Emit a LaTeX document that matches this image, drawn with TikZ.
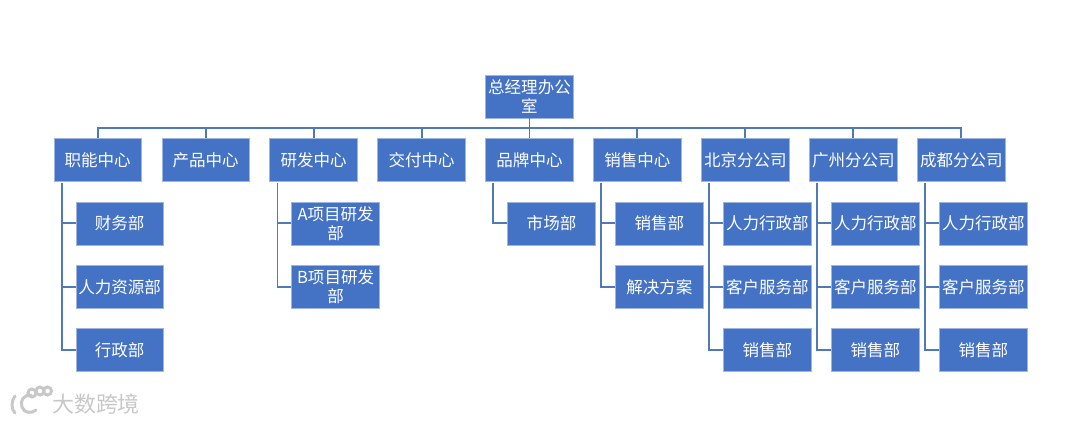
\documentclass[tikz,border=0pt]{standalone}
\usepackage{fontspec}
\setmainfont{Noto Sans CJK SC}
\usepackage{xcolor}
\usetikzlibrary{positioning, calc}
\definecolor{boxblue}{HTML}{4472C4}
\definecolor{boxborder}{HTML}{9DB5E0}
\definecolor{linkblue}{HTML}{5079B8}
\definecolor{markgray}{HTML}{C8C8C8}
\tikzset{
  unit/.style={fill=boxblue, draw=boxborder, line width=0.4pt, text=white, minimum width=1.75cm,
    minimum height=0.86cm, inner sep=0pt, align=center, font=\fontsize{9.4pt}{11pt}\selectfont},
  link/.style={draw=linkblue, line width=1.1pt},
  logoline/.style={draw=markgray, line width=1.7pt, line cap=round}
}

\begin{document}
\begin{tikzpicture}[node distance=0.395cm]
  \useasboundingbox (0,0) rectangle (21.6,-8.48);
  \node[unit] (office) at (10.59,-1.93) {总经理办公\\室};
  % centres
  \node[unit, below=of office] (brand) {品牌中心};
  \node[unit, left=of brand] (delivery) {交付中心};
  \node[unit, left=of delivery] (rnd) {研发中心};
  \node[unit, left=of rnd] (product) {产品中心};
  \node[unit, left=of product] (admin) {职能中心};
  \node[unit, right=of brand] (sales) {销售中心};
  \node[unit, right=of sales] (beijing) {北京分公司};
  \node[unit, right=of beijing] (guangzhou) {广州分公司};
  \node[unit, right=of guangzhou] (chengdu) {成都分公司};
  % departments
  \node[unit, below=of admin, xshift=0.44cm] (finance) {财务部};
  \node[unit, below=of finance] (hr) {人力资源部};
  \node[unit, below=of hr] (affairs) {行政部};
  \node[unit, below=of rnd, xshift=0.44cm] (proja) {A项目研发\\部};
  \node[unit, below=of proja] (projb) {B项目研发\\部};
  \node[unit, below=of brand, xshift=0.44cm] (market) {市场部};
  \node[unit, below=of sales, xshift=0.44cm] (salesdep) {销售部};
  \node[unit, below=of salesdep] (solution) {解决方案};
  \node[unit, below=of beijing, xshift=0.44cm] (bjhr) {人力行政部};
  \node[unit, below=of bjhr] (bjcs) {客户服务部};
  \node[unit, below=of bjcs] (bjsales) {销售部};
  \node[unit, below=of guangzhou, xshift=0.44cm] (gzhr) {人力行政部};
  \node[unit, below=of gzhr] (gzcs) {客户服务部};
  \node[unit, below=of gzcs] (gzsales) {销售部};
  \node[unit, below=of chengdu, xshift=0.44cm] (cdhr) {人力行政部};
  \node[unit, below=of cdhr] (cdcs) {客户服务部};
  \node[unit, below=of cdcs] (cdsales) {销售部};
  % bus under the top box
  \coordinate (bus) at ($(office.south)+(0,-0.2)$);
  \draw[link] (office.south) -- (brand.north);
  \draw[link] (bus) -| (admin.north);
  \draw[link] (bus) -| (product.north);
  \draw[link] (bus) -| (rnd.north);
  \draw[link] (bus) -| (delivery.north);
  \draw[link] (bus) -| (sales.north);
  \draw[link] (bus) -| (beijing.north);
  \draw[link] (bus) -| (guangzhou.north);
  \draw[link] (bus) -| (chengdu.north);
  % spines
  \draw[link] ($(admin.south west)+(0.16,-0.03)$) |- (finance.west);
  \draw[link] ($(admin.south west)+(0.16,-0.03)$) |- (hr.west);
  \draw[link] ($(admin.south west)+(0.16,-0.03)$) |- (affairs.west);
  \draw[link] ($(rnd.south west)+(0.16,-0.03)$) |- (proja.west);
  \draw[link] ($(rnd.south west)+(0.16,-0.03)$) |- (projb.west);
  \draw[link] ($(brand.south west)+(0.16,-0.03)$) |- (market.west);
  \draw[link] ($(sales.south west)+(0.16,-0.03)$) |- (salesdep.west);
  \draw[link] ($(sales.south west)+(0.16,-0.03)$) |- (solution.west);
  \draw[link] ($(beijing.south west)+(0.16,-0.03)$) |- (bjhr.west);
  \draw[link] ($(beijing.south west)+(0.16,-0.03)$) |- (bjcs.west);
  \draw[link] ($(beijing.south west)+(0.16,-0.03)$) |- (bjsales.west);
  \draw[link] ($(guangzhou.south west)+(0.16,-0.03)$) |- (gzhr.west);
  \draw[link] ($(guangzhou.south west)+(0.16,-0.03)$) |- (gzcs.west);
  \draw[link] ($(guangzhou.south west)+(0.16,-0.03)$) |- (gzsales.west);
  \draw[link] ($(chengdu.south west)+(0.16,-0.03)$) |- (cdhr.west);
  \draw[link] ($(chengdu.south west)+(0.16,-0.03)$) |- (cdcs.west);
  \draw[link] ($(chengdu.south west)+(0.16,-0.03)$) |- (cdsales.west);
  % watermark
  \node[text=markgray, inner sep=0pt, font=\fontsize{12.5pt}{14pt}\selectfont] (brandmark) at (1.92,-8.08) {大数跨境};
  \draw[logoline] (0.3,-7.92) .. controls (0.22,-8.02) and (0.22,-8.18) .. (0.3,-8.26);
  \draw[logoline] (0.62,-7.9) .. controls (0.46,-7.9) and (0.4,-8.02) .. (0.44,-8.14) .. controls (0.48,-8.26) and (0.62,-8.28) .. (0.72,-8.2);
  \draw[logoline] (0.64,-7.86) circle (0.08);
  \draw[logoline] (0.8,-7.82) circle (0.08);
  \draw[logoline] (0.95,-7.82) circle (0.08);
\end{tikzpicture}
\end{document}
